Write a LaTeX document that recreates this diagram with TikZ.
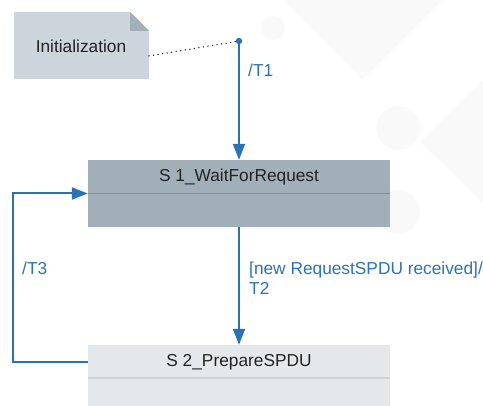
\documentclass[tikz,border=0pt]{standalone}
\usepackage{fontspec}
\setmainfont{Liberation Sans}
\usetikzlibrary{arrows.meta}
\definecolor{umlblue}{HTML}{2A72B8}
\definecolor{notegrey}{HTML}{CDD5DC}
\definecolor{foldgrey}{HTML}{A3AFB7}
\definecolor{waitfill}{HTML}{A1B0B8}
\definecolor{waitline}{HTML}{7F939D}
\definecolor{preparefill}{HTML}{E5E8EB}
\definecolor{prepareline}{HTML}{CDD2D6}
\definecolor{watermark}{HTML}{F9F9F9}
\definecolor{textgrey}{HTML}{222222}

\begin{document}
\begin{tikzpicture}[x=1pt,y=-1pt,font=\fontsize{17.3}{20}\selectfont,
  trans/.style={draw=umlblue,line width=2pt,-{Triangle[length=16pt,width=12pt]}},
  translabel/.style={text=umlblue,anchor=west,align=left,inner sep=0pt},
  statebox/.style={minimum width=302pt,inner sep=0pt}]
\useasboundingbox (0,0) rectangle (483,406);

% faint background marks
\fill[watermark] (283,0) -- (443,0) -- (363,80) -- cycle;
\fill[watermark] (483,80) -- (420,142) -- (483,204) -- cycle;
\fill[watermark] (273,28) circle (12);
\fill[watermark] (398,128) circle (22);
\fill[watermark] (398,212) circle (22);

% note
\fill[notegrey] (14,12) -- (130,12) -- (149,31) -- (149,79) -- (14,79) -- cycle;
\fill[foldgrey] (130,12) -- (149,31) -- (130,31) -- cycle;
\node[text=textgrey] (init) at (81,46) {Initialization};
\coordinate (noteedge) at (149,56);

% initial state
\fill[umlblue] (239,41) circle (3.2);
\coordinate (start) at (239,41);
\draw[textgrey,line width=1.5pt,line cap=round,dash pattern=on 0pt off 4.6pt] (noteedge) -- (start);

% states
\node[statebox,fill=waitfill,minimum height=67pt] (wait) at (239,193.5) {};
\draw[waitline,line width=1.2pt] (wait.west) -- (wait.east);
\node[text=textgrey] (waittitle) at (239,177) {S 1\_WaitForRequest};

\node[statebox,fill=preparefill,minimum height=61pt] (prep) at (239,375.5) {};
\draw[prepareline,line width=1.2pt] (prep.west |- 0,378) -- (prep.east |- 0,378);
\node[text=textgrey] (preptitle) at (239,362) {S 2\_PrepareSPDU};

% transitions
\draw[trans] (start) -- (wait.north);
\node[translabel] (tone) at (248,70) {/T1};

\draw[trans] (wait.south) -- (prep.north);
\node[translabel] (ttwo) at (249,278) {[new RequestSPDU received]/\\T2};

\coordinate (loopcorner) at (13,362);
\draw[trans] (preptitle -| prep.west) -- (loopcorner) |- (wait.west);
\node[translabel] (tthree) at (22,268) {/T3};
\end{tikzpicture}
\end{document}
